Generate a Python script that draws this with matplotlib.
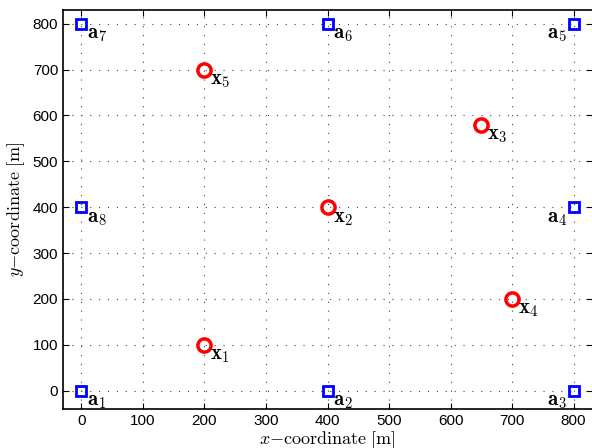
import matplotlib.pyplot as plt

plt.rcParams['mathtext.fontset'] = 'cm'
plt.rcParams['font.family'] = ['Liberation Sans', 'DejaVu Sans']

# anchor nodes a1..a8
anchor_x = [0, 400, 800, 800, 800, 400, 0, 0]
anchor_y = [0, 0, 0, 400, 800, 800, 800, 400]
anchor_labels = [r'$\mathbf{a}_{%d}$' % (i + 1) for i in range(8)]
anchor_side = ['r', 'r', 'l', 'l', 'l', 'r', 'r', 'r']

# targets x1..x5
target_x = [200, 400, 650, 700, 200]
target_y = [100, 400, 580, 200, 700]
target_labels = [r'$\mathbf{x}_{%d}$' % (i + 1) for i in range(5)]

fig = plt.figure(figsize=(5.92, 4.48), dpi=100)
ax = fig.add_axes([63 / 592, 39 / 448, 529 / 592, 399 / 448])

ax.plot(anchor_x, anchor_y, 's', ms=7.5, mfc='none', mec='#0000ff', mew=2, zorder=3)
ax.plot(target_x, target_y, 'o', ms=9.5, mfc='none', mec='#ff0000', mew=2.5, zorder=3)

for xx, yy, lab, side in zip(anchor_x, anchor_y, anchor_labels, anchor_side):
    if side == 'r':
        ax.annotate(lab, (xx, yy), xytext=(4, -1), textcoords='offset points',
                    ha='left', va='top', fontsize=15)
    else:
        ax.annotate(lab, (xx, yy), xytext=(-5, -1), textcoords='offset points',
                    ha='right', va='top', fontsize=15)

for xx, yy, lab in zip(target_x, target_y, target_labels):
    ax.annotate(lab, (xx, yy), xytext=(4, -1), textcoords='offset points',
                ha='left', va='top', fontsize=15)

ax.set_xlim(-30, 830)
ax.set_ylim(-40, 830)
ax.set_xticks(range(0, 801, 100))
ax.set_yticks(range(0, 801, 100))
ax.grid(True, linestyle=(0, (1, 7)), color='#444444', linewidth=0.8)
ax.tick_params(direction='in', top=True, right=True, labelsize=11, length=4)
for s in ax.spines.values():
    s.set_linewidth(1.2)
ax.spines['right'].set_visible(False)

ax.set_xlabel(r'$x\mathrm{-coordinate\ [m]}$', fontsize=13, labelpad=1)
ax.set_ylabel(r'$y\mathrm{-coordinate\ [m]}$', fontsize=13, labelpad=4)

fig.savefig('out.png', dpi=100)
